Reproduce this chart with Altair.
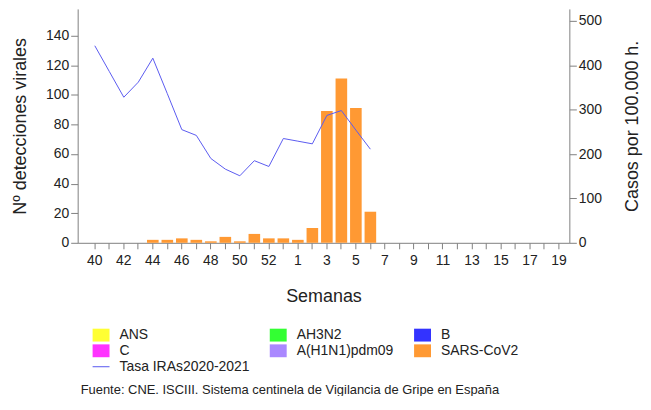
import json
import altair as alt
import pandas as pd

# ---- data -----------------------------------------------------------------
weeks = ["40", "41", "42", "43", "44", "45", "46", "47", "48", "49", "50",
         "51", "52", "53", "1", "2", "3", "4", "5", "6", "7", "8", "9", "10",
         "11", "12", "13", "14", "15", "16", "17", "18", "19"]
labeled_weeks = ["40", "42", "44", "46", "48", "50", "52", "1", "3", "5",
                 "7", "9", "11", "13", "15", "17", "19"]

data_weeks = ["40", "41", "42", "43", "44", "45", "46", "47", "48", "49",
              "50", "51", "52", "53", "1", "2", "3", "4", "5", "6"]
sars_cov2 = [0, 0, 0, 0, 2, 2, 3, 2, 1, 4, 1, 6, 3, 3, 2, 10, 89, 111, 91, 21]
tasa_iras = [444, 386, 328, 362, 416, 336, 255, 242, 190, 166, 151, 185, 172,
             235, 229, 223, 287, 298, 254, 211]

series_names = ["ANS", "AH3N2", "B", "C", "A(H1N1)pdm09", "SARS-CoV2",
                "Tasa IRAs2020-2021"]
series_colors = ["#FFFF33", "#33FF33", "#3333FF", "#FF33FF", "#AA88FF",
                 "#FF9933", "#5B5BF0"]

left_ticks = [0, 20, 40, 60, 80, 100, 120, 140]
right_ticks = [0, 100, 200, 300, 400, 500]

bars_df = pd.DataFrame({"semana": data_weeks, "n": sars_cov2,
                        "virus": "SARS-CoV2"})
line_df = pd.DataFrame({"semana": data_weeks, "tasa": tasa_iras})

FONT = "Liberation Sans"
AXC = "#808080"

x_enc = alt.X(
    "semana:O",
    sort=weeks,
    scale=alt.Scale(domain=weeks, paddingInner=0.2, paddingOuter=0.55, align=0.71),
    axis=alt.Axis(
        title="Semanas", labelAngle=0, labelFontSize=14, labelFont=FONT,
        labelColor="#222222", titleFontSize=18, titleFont=FONT,
        titleFontWeight="normal", titleColor="#222222", titlePadding=20,
        tickSize=6, tickColor=AXC, domainColor=AXC, labelPadding=5,
        labelExpr="indexof(" + json.dumps(labeled_weeks) + ", datum.label) >= 0 ? datum.label : ''",
    ),
)

symbol_expr = ("datum.label === 'Tasa IRAs2020-2021' ? 'M-1,-0.06H1V0.06H-1Z' "
               ": 'M-1,-0.76H1V0.76H-1Z'")

bars = alt.Chart(bars_df).mark_bar().encode(
    x=x_enc,
    y=alt.Y("n:Q", scale=alt.Scale(domain=[0, 158], nice=False),
            axis=alt.Axis(title="Nº detecciones virales", values=left_ticks,
                          grid=False, labelFontSize=14, labelFont=FONT,
                          labelColor="#222222", titleFontSize=18,
                          titleFont=FONT, titleFontWeight="normal",
                          titleColor="#222222", tickSize=7, tickColor=AXC,
                          domainColor=AXC, labelPadding=2, titlePadding=16)),
    color=alt.Color("virus:N",
                    scale=alt.Scale(domain=series_names, range=series_colors),
                    legend=alt.Legend(
                        title=None, orient="none", legendX=15, legendY=319,
                        direction="horizontal",
                        columns=3, columnPadding=20, rowPadding=0,
                        labelOffset=10, symbolSize=289,
                        symbolType={"expr": symbol_expr},
                        symbolStrokeWidth=0, symbolOpacity=1,
                        labelFontSize=14, labelFont=FONT,
                        labelColor="#222222", labelLimit=0)),
)

line = alt.Chart(line_df).mark_line(strokeWidth=1, color="#5B5BF0").encode(
    x=x_enc,
    y=alt.Y("tasa:Q", scale=alt.Scale(domain=[0, 527], nice=False),
            axis=alt.Axis(title="Casos por 100.000 h.", orient="right",
                          values=right_ticks, grid=False, labelFontSize=14,
                          labelFont=FONT, labelColor="#222222",
                          titleFontSize=18, titleFont=FONT,
                          titleFontWeight="normal", titleColor="#222222",
                          titleAngle=270, titleBaseline="top",
                          tickSize=7, tickColor=AXC,
                          domainColor=AXC, labelPadding=2, titlePadding=22)),
)

chart = alt.layer(bars, line).resolve_scale(y="independent").properties(
    width=494, height=235,
    autosize=alt.AutoSizeParams(type="none"),
    padding={"left": 70, "top": 0, "right": 74, "bottom": 153},
    title=alt.TitleParams(
        text="Fuente: CNE. ISCIII. Sistema centinela de Vigilancia de Gripe en España",
        orient="bottom", anchor="start", frame="group", dx=3,
        fontSize=13, font=FONT,
        fontWeight="normal", color="#222222", offset=10),
).configure_view(stroke=None)

chart.save("out.html", embed_options={"renderer": "svg", "actions": False})
